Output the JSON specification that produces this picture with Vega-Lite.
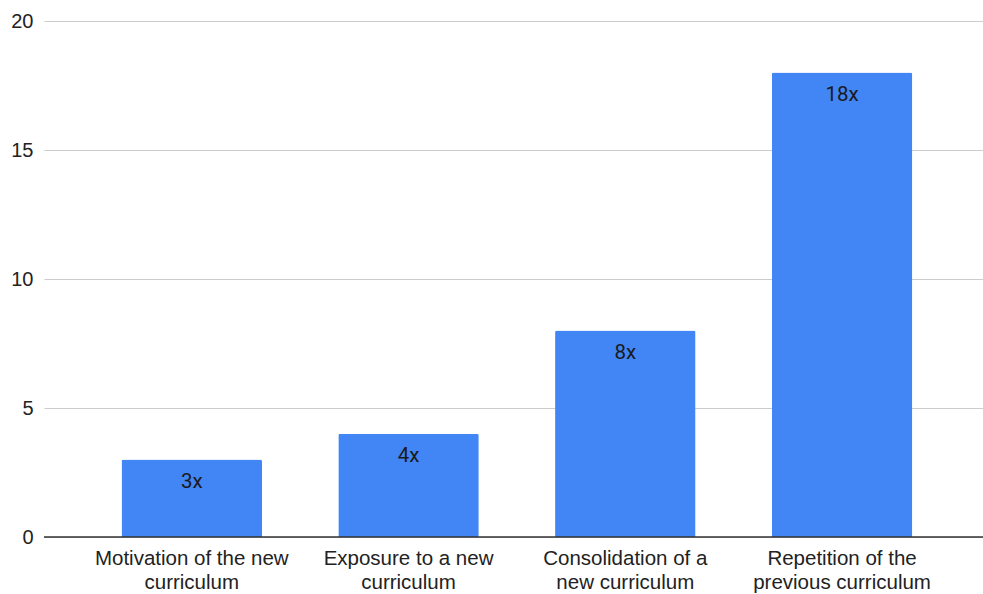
{
  "$schema": "https://vega.github.io/schema/vega-lite/v6.json",
  "width": 939,
  "height": 516,
  "autosize": {"type": "none"},
  "padding": {"left": 44, "top": 21, "right": 0, "bottom": 57},
  "background": "white",
  "config": {
    "view": {"stroke": null},
    "font": "Liberation Sans"
  },
  "data": {
    "values": [
      {"stage": "Motivation of the new\ncurriculum", "count": 3, "label": "3x"},
      {"stage": "Exposure to a new\ncurriculum", "count": 4, "label": "4x"},
      {"stage": "Consolidation of a\nnew curriculum", "count": 8, "label": "8x"},
      {"stage": "Repetition of the\nprevious curriculum", "count": 18, "label": "18x"}
    ]
  },
  "layer": [
    {
      "mark": {"type": "bar", "color": "#4285F4", "cornerRadiusTopLeft": 2, "cornerRadiusTopRight": 2},
      "encoding": {
        "x": {
          "field": "stage",
          "type": "nominal",
          "sort": null,
          "scale": {"paddingInner": 0.352, "paddingOuter": 0.342, "align": 0.523},
          "axis": {
            "title": null,
            "labelAngle": 0,
            "labelExpr": "split(datum.label, '\\n')",
            "labelFontSize": 20.5,
            "labelColor": "#222222",
            "labelLineHeight": 24,
            "labelPadding": 11,
            "labelLimit": 400,
            "ticks": false,
            "domain": false,
            "grid": false
          }
        },
        "y": {
          "field": "count",
          "type": "quantitative",
          "scale": {"domain": [0, 20]},
          "axis": {
            "title": null,
            "values": [0, 5, 10, 15, 20],
            "labelFontSize": 20,
            "labelColor": "#222222",
            "labelPadding": 11,
            "ticks": false,
            "domain": false,
            "grid": true,
            "gridColor": "#cccccc",
            "gridWidth": 1
          }
        }
      }
    },
    {
      "mark": {"type": "text", "font": "Roboto", "fontSize": 20.5, "color": "#1a1a1a", "baseline": "alphabetic", "dy": 28},
      "encoding": {
        "x": {"field": "stage", "type": "nominal", "sort": null},
        "y": {"field": "count", "type": "quantitative"},
        "text": {"field": "label"}
      }
    },
    {
      "data": {"values": [{"base": 0}]},
      "mark": {"type": "rule", "color": "#333333", "strokeWidth": 1.5},
      "encoding": {
        "y": {"field": "base", "type": "quantitative"}
      }
    }
  ]
}
